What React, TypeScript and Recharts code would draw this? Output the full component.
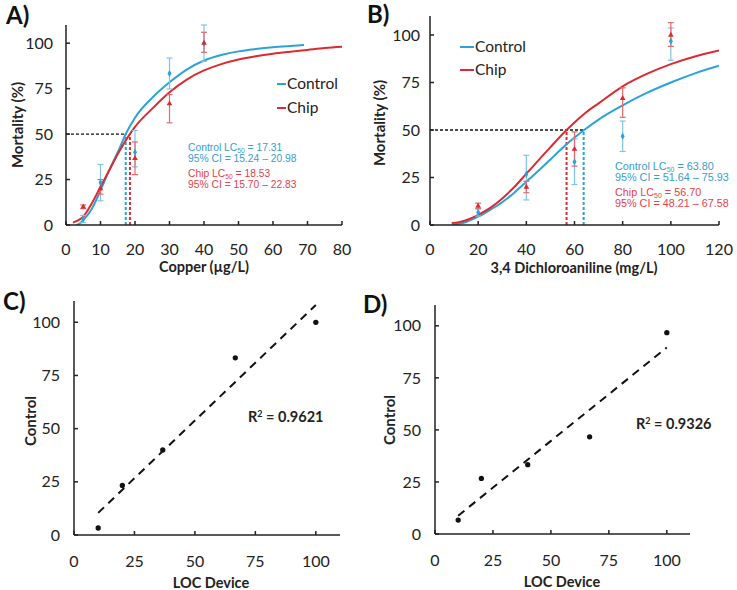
import React from 'react';
import { ComposedChart, Line, Scatter, XAxis, YAxis, ZAxis, ErrorBar, ReferenceLine } from 'recharts';

// ---------- Panel A: Copper ----------
const copperDoses = [5, 10, 20, 30, 40];
const copperControlMort = [3.3, 23.3, 40, 83.3, 100];
const copperControlErrLow = [2, 10, 8, 8.5, 10];
const copperControlErrHigh = [2, 10, 12, 8.5, 10];
const copperChipMort = [10, 20, 36.7, 66.7, 100];
const copperChipErrLow = [1, 3, 9, 10.5, 5];
const copperChipErrHigh = [1, 5, 9, 5, 6];
const copperControlFitX = [3, 4, 5, 7.5, 10, 12.5, 15, 17.3, 20, 25, 30, 35, 40, 45, 50, 55, 60, 65, 69];
const copperControlFitY = [0, 0.8, 2.7, 9, 19, 30, 40, 50, 59, 70, 78.5, 85.5, 90.5, 93.5, 95.5, 96.8, 97.8, 98.5, 99];
const copperChipFitX = [2, 3.5, 5, 7.5, 10, 12.5, 15, 18.5, 20, 25, 30, 35, 40, 45, 50, 55, 60, 65, 70, 75, 80];
const copperChipFitY = [1.3, 2.5, 4.6, 12, 21, 30, 39, 50, 54, 64, 73, 80, 85, 88.5, 91, 92.8, 94.2, 95.3, 96.3, 97.3, 98];
const copperLC50 = { control: 17.31, chip: 18.53 };
const copperTicks = [0, 10, 20, 30, 40, 50, 60, 70, 80];

// ---------- Panel B: 3,4 Dichloroaniline ----------
const dcaDoses = [20, 40, 60, 80, 100];
const dcaControlMort = [6.7, 26.7, 33.3, 46.7, 96.7];
const dcaControlErrLow = [2, 13.5, 12, 8, 10];
const dcaControlErrHigh = [2, 10, 12, 8, 7];
const dcaChipMort = [10, 20, 40, 66.7, 100];
const dcaChipErrLow = [1.5, 3, 9, 10, 6];
const dcaChipErrHigh = [1.5, 3, 9, 5.5, 6.5];
const dcaControlFitX = [9, 12, 15, 20, 25, 30, 35, 40, 45, 50, 55, 60, 64, 70, 80, 90, 100, 110, 120];
const dcaControlFitY = [0, 0.7, 1.6, 4.4, 8, 12, 17, 22.8, 28.5, 34.5, 40.5, 46, 50, 55.5, 63, 69.5, 75, 79.8, 83.8];
const dcaChipFitX = [9, 12, 15, 20, 25, 30, 35, 40, 45, 50, 56.7, 60, 65, 70, 80, 90, 100, 110, 120];
const dcaChipFitY = [1, 1.5, 2.5, 5.3, 9, 14, 20, 27, 34, 41, 50, 54, 59.5, 64, 73, 79.5, 84.7, 88.7, 91.8];
const dcaLC50 = { control: 63.8, chip: 56.7 };
const dcaTicks = [0, 20, 40, 60, 80, 100, 120];

// ---------- Panels C & D: correlation ----------
const corrCLoc = [10, 20, 36.7, 66.7, 100];
const corrCControl = [3.3, 23.3, 40, 83.3, 100];
const corrCTrendX = [10, 100];
const corrCTrendY = [10.4, 108.1];
const corrDLoc = [10, 20, 40, 66.7, 100];
const corrDControl = [6.7, 26.7, 33.3, 46.7, 96.7];
const corrDTrendX = [10, 100];
const corrDTrendY = [8.8, 89.6];
const corrTicks = [0, 25, 50, 75, 100];
const mortTicks = [0, 25, 50, 75, 100];

const BLUE = '#29a3da';
const RED = '#dc2a30';
const BLUE_ERR = '#7fc3e6';
const RED_ERR = '#e36a6e';
const BLUE_TXT = '#3a9ccf';
const RED_TXT = '#e5424a';
const AX = '#222';
const FONT = 'Lato, "Open Sans", sans-serif';
const W = 737;
const H = 590;

const pts = (xs: number[], ys: number[], lo?: number[], hi?: number[]) =>
  xs.map((x, i) => ({ x, y: ys[i], err: lo && hi ? [lo[i], hi[i]] : undefined }));

const tickStyle = { fontSize: 16, fill: AX, fontFamily: FONT };
const axLine = { stroke: AX, strokeWidth: 1.5 };

function T({ x, y, children, anchor = 'start', style = {} }: any) {
  const tx = anchor === 'middle' ? '-50%' : anchor === 'end' ? '-100%' : '0';
  return (
    <div
      style={{
        position: 'absolute',
        left: x,
        top: y,
        transform: `translate(${tx}, -50%)`,
        whiteSpace: 'nowrap',
        lineHeight: 1,
        fontFamily: FONT,
        ...style,
      }}
    >
      {children}
    </div>
  );
}

function VT({ x, y, children, style = {} }: any) {
  return (
    <div
      style={{
        position: 'absolute',
        left: x,
        top: y,
        transform: 'translate(-50%, -50%) rotate(-90deg)',
        whiteSpace: 'nowrap',
        lineHeight: 1,
        fontFamily: FONT,
        fontWeight: 700,
        fontSize: 15,
        color: AX,
        ...style,
      }}
    >
      {children}
    </div>
  );
}

function LegendBox({ x, y, gap, lineLen }: any) {
  const item = (color: string, label: string) => (
    <div style={{ display: 'flex', alignItems: 'center', height: gap }}>
      <div style={{ width: lineLen, height: 2, background: color, marginRight: 1 }} />
      <span style={{ fontFamily: FONT, fontSize: 15.5, color: AX, lineHeight: 1 }}>{label}</span>
    </div>
  );
  return (
    <div style={{ position: 'absolute', left: x, top: y - gap / 2 }}>
      {item(BLUE, 'Control')}
      {item(RED, 'Chip')}
    </div>
  );
}

function Annot({ x, y1, name, lc, ci, color, size, lh }: any) {
  const st = { fontFamily: '"Liberation Sans", Arial, sans-serif', fontSize: size, color, lineHeight: 1 };
  return (
    <>
      <T x={x} y={y1} style={st}>
        {name} LC<span style={{ fontSize: size * 0.65, position: 'relative', top: 1.5 }}>50</span> = {lc}
      </T>
      <T x={x} y={y1 + lh} style={st}>
        {ci}
      </T>
    </>
  );
}

const chartBox: React.CSSProperties = { position: 'absolute', left: 0, top: 0 };

function DoseChart({ margin, xDomain, xTicks, ctrlPts, chipPts, ctrlFit, chipFit, lc50, yTickMargin }: any) {
  return (
    <div style={chartBox}>
      <ComposedChart width={W} height={H} margin={margin}>
        <XAxis
          dataKey="x"
          type="number"
          domain={xDomain}
          ticks={xTicks}
          interval={0}
          allowDataOverflow
          height={10}
          tickSize={-4}
          tickMargin={23}
          tick={tickStyle}
          axisLine={axLine}
          tickLine={axLine}
        />
        <YAxis
          type="number"
          domain={[0, 110]}
          ticks={mortTicks}
          interval={0}
          allowDataOverflow
          width={10}
          tickSize={-4}
          tickMargin={yTickMargin}
          tick={tickStyle}
          axisLine={axLine}
          tickLine={axLine}
        />
        <ZAxis range={[14, 14]} />
        <ReferenceLine segment={[{ x: 0, y: 50 }, { x: lc50.control, y: 50 }]} stroke="#111" strokeWidth={1.3} strokeDasharray="3 2" />
        <ReferenceLine segment={[{ x: lc50.control, y: 0 }, { x: lc50.control, y: 50 }]} stroke={BLUE} strokeWidth={2} strokeDasharray="3 2" />
        <ReferenceLine segment={[{ x: lc50.chip, y: 0 }, { x: lc50.chip, y: 50 }]} stroke={RED} strokeWidth={2} strokeDasharray="3 2" />
        <Line data={ctrlFit} dataKey="y" type="monotone" dot={false} stroke={BLUE} strokeWidth={2} isAnimationActive={false} />
        <Line data={chipFit} dataKey="y" type="monotone" dot={false} stroke={RED} strokeWidth={2} isAnimationActive={false} />
        <Scatter data={ctrlPts} dataKey="y" fill={BLUE} shape="diamond" isAnimationActive={false}>
          <ErrorBar dataKey="err" direction="y" width={3} stroke={BLUE_ERR} strokeWidth={1.2} />
        </Scatter>
        <Scatter data={chipPts} dataKey="y" fill={RED} shape="triangle" isAnimationActive={false}>
          <ErrorBar dataKey="err" direction="y" width={3} stroke={RED_ERR} strokeWidth={1.2} />
        </Scatter>
      </ComposedChart>
    </div>
  );
}

function CorrChart({ margin, points, trend, yTickMargin }: any) {
  return (
    <div style={chartBox}>
      <ComposedChart width={W} height={H} margin={margin}>
        <XAxis
          dataKey="x"
          type="number"
          domain={[0, 110]}
          ticks={corrTicks}
          interval={0}
          allowDataOverflow
          height={10}
          tickSize={-4}
          tickMargin={25}
          tick={tickStyle}
          axisLine={axLine}
          tickLine={axLine}
        />
        <YAxis
          type="number"
          domain={[0, 110]}
          ticks={mortTicks}
          interval={0}
          allowDataOverflow
          width={10}
          tickSize={-4}
          tickMargin={yTickMargin}
          tick={tickStyle}
          axisLine={axLine}
          tickLine={axLine}
        />
        <ZAxis range={[22, 22]} />
        <Line data={trend} dataKey="y" type="linear" dot={false} stroke="#111" strokeWidth={2} strokeDasharray="8 6" isAnimationActive={false} />
        <Scatter data={points} dataKey="y" fill="#111" shape="circle" isAnimationActive={false} />
      </ComposedChart>
    </div>
  );
}

export default function App() {
  const panelLabel = { fontWeight: 700, fontSize: 24, color: '#111' };
  const xTitle = { fontWeight: 700, fontSize: 14.5, color: AX };
  return (
    <div style={{ position: 'absolute', left: 0, top: 0, width: W, height: H, background: '#fff', overflow: 'hidden' }}>
      <DoseChart
        margin={{ left: 56, right: 395, top: 25, bottom: 355 }}
        xDomain={[0, 80]}
        xTicks={copperTicks}
        ctrlPts={pts(copperDoses, copperControlMort, copperControlErrLow, copperControlErrHigh)}
        chipPts={pts(copperDoses, copperChipMort, copperChipErrLow, copperChipErrHigh)}
        ctrlFit={pts(copperControlFitX, copperControlFitY)}
        chipFit={pts(copperChipFitX, copperChipFitY)}
        lc50={copperLC50}
        yTickMargin={17}
      />
      <DoseChart
        margin={{ left: 420, right: 18, top: 16, bottom: 355 }}
        xDomain={[0, 120]}
        xTicks={dcaTicks}
        ctrlPts={pts(dcaDoses, dcaControlMort, dcaControlErrLow, dcaControlErrHigh)}
        chipPts={pts(dcaDoses, dcaChipMort, dcaChipErrLow, dcaChipErrHigh)}
        ctrlFit={pts(dcaControlFitX, dcaControlFitY)}
        chipFit={pts(dcaChipFitX, dcaChipFitY)}
        lc50={dcaLC50}
        yTickMargin={14}
      />
      <CorrChart
        margin={{ left: 64, right: 397, top: 301, bottom: 45 }}
        points={pts(corrCLoc, corrCControl)}
        trend={pts(corrCTrendX, corrCTrendY)}
        yTickMargin={18}
      />
      <CorrChart
        margin={{ left: 425, right: 47, top: 305, bottom: 46 }}
        points={pts(corrDLoc, corrDControl)}
        trend={pts(corrDTrendX, corrDTrendY)}
        yTickMargin={18}
      />

      {/* panel labels */}
      <T x={6} y={15} style={panelLabel}>A)</T>
      <T x={367} y={14} style={panelLabel}>B)</T>
      <T x={3} y={301} style={panelLabel}>C)</T>
      <T x={363} y={304} style={panelLabel}>D)</T>

      {/* axis titles */}
      <VT x={17} y={125}>Mortality (%)</VT>
      <VT x={379} y={123}>Mortality (%)</VT>
      <VT x={30} y={421}>Control</VT>
      <VT x={389} y={420}>Control</VT>
      <T x={204} y={267} anchor="middle" style={xTitle}>Copper (µg/L)</T>
      <T x={574} y={268} anchor="middle" style={xTitle}>3,4 Dichloroaniline (mg/L)</T>
      <T x={211} y={583} anchor="middle" style={xTitle}>LOC Device</T>
      <T x={562} y={582} anchor="middle" style={xTitle}>LOC Device</T>

      {/* legends */}
      <LegendBox x={277} y={84} gap={24} lineLen={9} />
      <LegendBox x={460} y={47} gap={23} lineLen={14} />

      {/* LC50 annotations */}
      <Annot x={188} y1={148} name="Control" lc="17.31" ci="95% CI = 15.24 – 20.98" color={BLUE_TXT} size={10.3} lh={10.5} />
      <Annot x={188} y1={174} name="Chip" lc="18.53" ci="95% CI =  15.70 – 22.83" color={RED_TXT} size={10.3} lh={10.5} />
      <Annot x={615} y1={166} name="Control" lc="63.80" ci="95% CI = 51.64 – 75.93" color={BLUE_TXT} size={10.8} lh={11} />
      <Annot x={615} y1={192} name="Chip" lc="56.70" ci="95% CI =  48.21 – 67.58" color={RED_TXT} size={10.8} lh={11} />

      {/* R² */}
      <T x={248} y={417} style={{ fontWeight: 700, fontSize: 14.5, color: AX }}>
        R<span style={{ fontSize: 9, position: 'relative', top: -5 }}>2</span> = 0.9621
      </T>
      <T x={636} y={424} style={{ fontWeight: 700, fontSize: 14.5, color: AX }}>
        R<span style={{ fontSize: 9, position: 'relative', top: -5 }}>2</span> = 0.9326
      </T>
    </div>
  );
}
